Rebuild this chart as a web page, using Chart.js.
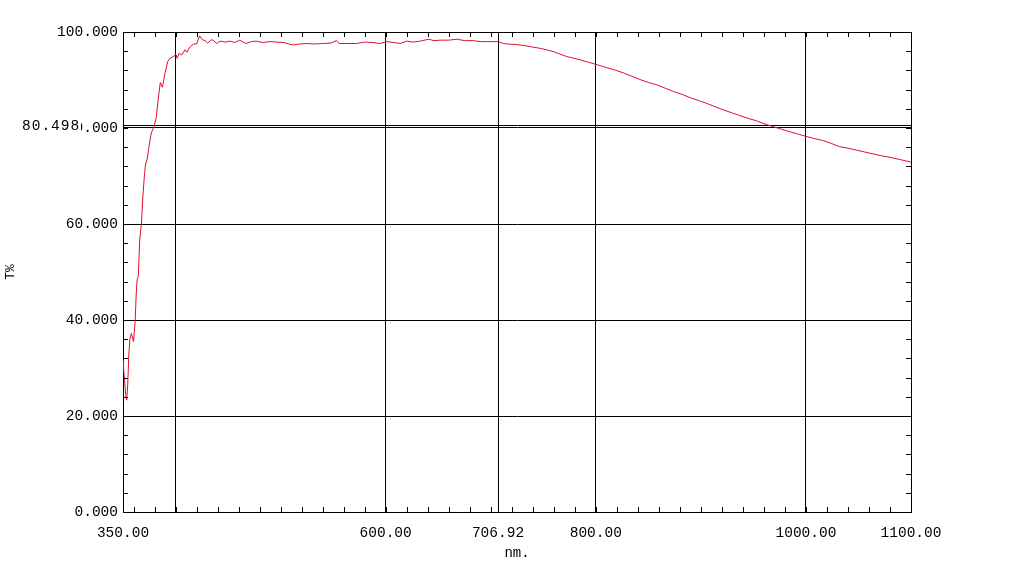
<!DOCTYPE html>
<html>
<head>
<meta charset="utf-8">
<script src="https://cdn.jsdelivr.net/npm/chart.js@4"></script>
<style>
  html, body { margin: 0; padding: 0; background: #fff; }
  #wrap { width: 1034px; height: 566px; }
</style>
</head>
<body>
<div id="wrap"><canvas id="spectrum"></canvas></div>
<script>
// wavelength (nm) and transmittance (T%)
const wavelengths = [
  350, 350.5, 351.5, 352.5, 353.5, 354.5, 355.5, 356.5, 358, 360,
  361.5, 362.5, 363.5, 364.5, 366, 367.5, 369, 370.5, 371.5, 373,
  375, 377, 379.5, 381.5, 383.5, 385.5, 387.5, 390, 392.5, 394.5,
  398, 400.5, 401.5, 403.5, 406, 409, 411, 413, 417, 420,
  423, 425.5, 428, 430.5, 434, 436.5, 439, 442.5, 447, 452,
  456, 461, 467, 472, 477, 483, 490, 496, 503, 508,
  512, 518, 525, 532, 540, 548, 553, 556, 563, 572,
  580, 588, 595, 601, 608, 614, 620, 626, 633, 641,
  646, 652, 660, 668, 675, 683, 690, 696, 707, 712,
  716, 724, 731, 739, 747, 753, 760, 766, 772, 778,
  785, 793, 801, 810, 818, 826, 834, 842, 850, 858,
  866, 874, 882, 890, 898, 906, 914, 921, 929, 937,
  945, 953, 960, 967, 976, 985, 993, 1001, 1008, 1016,
  1024, 1032, 1040, 1048, 1056, 1064, 1072, 1080, 1090, 1100
];
const transmittance = [
  31.5, 30.0, 27.5, 24.5, 23.3, 26.5, 32.5, 36.0, 37.2, 35.5,
  39.5, 45.0, 48.5, 49.0, 57.0, 60.0, 66.0, 70.5, 72.5, 73.5,
  76.5, 79.0, 80.3, 82.0, 86.0, 89.5, 88.5, 91.4, 93.8, 94.5,
  94.9, 95.3, 94.5, 95.6, 95.2, 96.3, 95.8, 96.7, 97.5, 97.5,
  99.2, 98.4, 98.2, 97.7, 98.4, 98.2, 97.6, 98.1, 97.9, 98.1,
  97.8, 98.3, 97.6, 98.0, 98.1, 97.8, 98.0, 97.9, 97.8, 97.5,
  97.3, 97.5, 97.6, 97.5, 97.6, 97.7, 98.2, 97.6, 97.6, 97.6,
  97.9, 97.8, 97.6, 98.0, 97.8, 97.6, 98.1, 97.9, 98.1, 98.5,
  98.2, 98.3, 98.3, 98.5, 98.2, 98.2, 98.0, 98.0, 98.0, 97.6,
  97.5, 97.4, 97.2, 96.9, 96.6, 96.3, 95.9, 95.4, 94.9, 94.6,
  94.2, 93.7, 93.2, 92.6, 92.1, 91.5, 90.8, 90.1, 89.5, 89.0,
  88.3, 87.6, 87.0, 86.3, 85.7, 85.1, 84.4, 83.8, 83.2, 82.6,
  82.0, 81.5, 80.9, 80.4, 79.8, 79.2, 78.7, 78.2, 77.8, 77.4,
  76.8, 76.1, 75.8, 75.4, 75.0, 74.6, 74.2, 73.9, 73.4, 72.9
];

// grid positions / labelled ticks
const xGrid = [350, 400, 600, 706.92, 800, 1000, 1100];
const xHiddenLabels = [400];
const yGrid = [0, 20, 40, 60, 80, 80.498, 100];
const markerValue = 80.498;
const xMinorStep = 20;
const yMinorStep = 4;

const FONT = '"Liberation Mono", "DejaVu Sans Mono", monospace';

// small inward ticks on all four sides + overlapping marker label
const frameTicks = {
  id: 'frameTicks',
  afterDraw(chart) {
    const { ctx, chartArea: a, scales: { x, y } } = chart;
    ctx.save();
    ctx.strokeStyle = '#000';
    ctx.lineWidth = 1;
    ctx.beginPath();
    for (let v = 360; v < x.max; v += xMinorStep) {
      const px = Math.round(x.getPixelForValue(v)) + 0.5;
      ctx.moveTo(px, a.bottom); ctx.lineTo(px, a.bottom - 5);
      ctx.moveTo(px, a.top); ctx.lineTo(px, a.top + 5);
    }
    for (let v = yMinorStep; v < y.max; v += yMinorStep) {
      const py = Math.round(y.getPixelForValue(v)) + 0.5;
      ctx.moveTo(a.left, py); ctx.lineTo(a.left + 5, py);
      ctx.moveTo(a.right, py); ctx.lineTo(a.right - 5, py);
    }
    ctx.stroke();

    // marker value written over the 80.000 label (leaves a sliver of its "0")
    const my = y.getPixelForValue(markerValue);
    ctx.font = '14.5px ' + FONT;
    ctx.letterSpacing = '1px';
    ctx.textAlign = 'left';
    ctx.textBaseline = 'middle';
    ctx.fillStyle = '#fff';
    ctx.fillRect(20, my - 8, 61, 17);
    ctx.fillStyle = '#000';
    ctx.fillText(String(markerValue), 22, my + 1);
    ctx.restore();
  }
};

new Chart(document.getElementById('spectrum'), {
  type: 'line',
  data: {
    datasets: [{
      data: wavelengths.map((w, i) => ({ x: w, y: transmittance[i] })),
      borderColor: '#dc1030',
      borderWidth: 1,
      pointRadius: 0,
      tension: 0,
      fill: false
    }]
  },
  options: {
    responsive: true,
    maintainAspectRatio: false,
    animation: false,
    layout: { padding: { left: 0, top: 32, right: 123, bottom: 0 } },
    plugins: { legend: { display: false }, tooltip: { enabled: false } },
    scales: {
      x: {
        type: 'linear',
        min: 350,
        max: 1100,
        afterBuildTicks: s => { s.ticks = xGrid.map(v => ({ value: v })); },
        afterFit: s => { s.height = 54; },
        grid: { color: '#000', lineWidth: 1, drawTicks: false },
        border: { color: '#000', width: 1 },
        ticks: {
          autoSkip: false,
          maxRotation: 0,
          padding: 12,
          color: '#000',
          font: { family: FONT, size: 14.5 },
          callback: v => xHiddenLabels.includes(v) ? '' : v.toFixed(2)
        },
        title: {
          display: true,
          text: 'nm.',
          color: '#000',
          font: { family: FONT, size: 14 },
          padding: { top: 0, bottom: 4 }
        }
      },
      y: {
        min: 0,
        max: 100,
        afterBuildTicks: s => { s.ticks = yGrid.map(v => ({ value: v })); },
        afterFit: s => { s.width = 123; },
        grid: { color: '#000', lineWidth: 1, drawTicks: false },
        border: { color: '#000', width: 1 },
        ticks: {
          autoSkip: false,
          padding: 5,
          color: '#000',
          font: { family: FONT, size: 14.5 },
          callback: v => v === markerValue ? '' : v.toFixed(3)
        },
        title: {
          display: true,
          text: 'T%',
          color: '#000',
          font: { family: FONT, size: 13 },
          padding: { top: 3, bottom: 0 }
        }
      }
    }
  },
  plugins: [frameTicks]
});
</script>
</body>
</html>
